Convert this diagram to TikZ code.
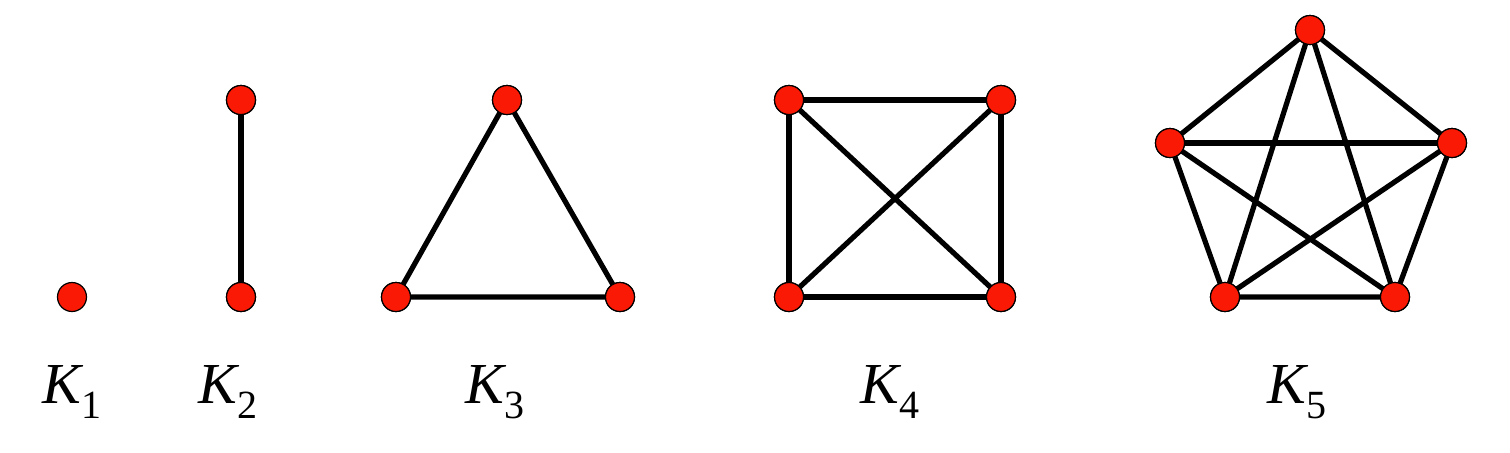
\documentclass[tikz,border=0pt]{standalone}
\usepackage{fontspec}
\setmainfont{Liberation Serif}
\definecolor{vred}{RGB}{250,25,5}
\newcommand{\klabel}[1]{\itshape K\upshape\kern0.5pt\raisebox{-7.5pt}{\fontsize{20}{20}\selectfont #1}}
\begin{document}
\begin{tikzpicture}[x=0.5pt,y=-0.5pt,
  vtx/.style={circle,fill=vred,draw=black,line width=0.6pt,minimum size=14.5pt,inner sep=0pt},
  edge/.style={line width=2.6pt,black},
  lbl/.style={anchor=base,inner sep=0pt,font=\fontsize{29}{30}\selectfont}]
\useasboundingbox (0,0) rectangle (1510,452);
% K1
\node[vtx] (a1) at (72,297) {};
% K2
\node[vtx] (b1) at (241,100) {};
\node[vtx] (b2) at (241,297) {};
% K3
\node[vtx] (c1) at (507,100) {};
\node[vtx] (c2) at (396,297) {};
\node[vtx] (c3) at (620,297) {};
% K4
\node[vtx] (d1) at (789,100) {};
\node[vtx] (d2) at (1001,100) {};
\node[vtx] (d3) at (789,297) {};
\node[vtx] (d4) at (1001,297) {};
% K5
\node[vtx] (e1) at (1310,30) {};
\node[vtx] (e2) at (1170,143) {};
\node[vtx] (e3) at (1452,143) {};
\node[vtx] (e4) at (1225,297) {};
\node[vtx] (e5) at (1395,297) {};
\draw[edge] (b1.center) -- (b2.center);
\draw[edge] (c1.center) -- (c2.center) -- (c3.center) -- cycle;
\draw[edge] (d1.center) -- (d2.center) -- (d4.center) -- (d3.center) -- cycle;
\draw[edge] (d1.center) -- (d4.center);
\draw[edge] (d2.center) -- (d3.center);
\draw[edge] (e1.center) -- (e2.center) -- (e4.center) -- (e5.center) -- (e3.center) -- cycle;
\draw[edge] (e1.center) -- (e4.center);
\draw[edge] (e1.center) -- (e5.center);
\draw[edge] (e2.center) -- (e3.center);
\draw[edge] (e2.center) -- (e5.center);
\draw[edge] (e3.center) -- (e4.center);
% redraw vertices on top
\foreach \n in {b1,b2,c1,c2,c3,d1,d2,d3,d4,e1,e2,e3,e4,e5}
  \node[vtx] at (\n) {};
% labels
\node[lbl] (l1) at (72,403) {\klabel{1}};
\node[lbl] (l2) at (228,403) {\klabel{2}};
\node[lbl] (l3) at (495,403) {\klabel{3}};
\node[lbl] (l4) at (890,403) {\klabel{4}};
\node[lbl] (l5) at (1297,403) {\klabel{5}};
\end{tikzpicture}
\end{document}
